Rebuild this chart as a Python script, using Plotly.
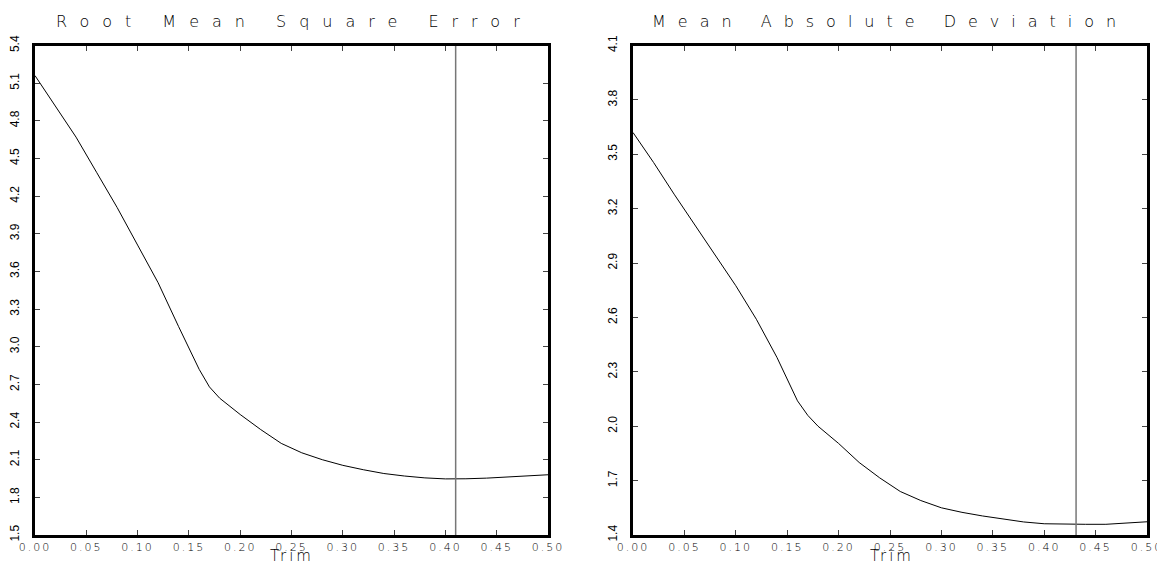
import plotly.graph_objects as go

# ---- data ----
trim_rmse = [0.00, 0.02, 0.04, 0.06, 0.08, 0.10, 0.12, 0.14, 0.16, 0.17, 0.18, 0.20,
             0.22, 0.24, 0.26, 0.28, 0.30, 0.32, 0.34, 0.36, 0.38, 0.40, 0.41, 0.42,
             0.44, 0.46, 0.48, 0.50]
rmse = [5.16, 4.92, 4.67, 4.39, 4.11, 3.81, 3.51, 3.16, 2.82, 2.68, 2.59, 2.46,
        2.34, 2.23, 2.155, 2.10, 2.055, 2.02, 1.99, 1.97, 1.955, 1.947, 1.946, 1.948,
        1.953, 1.96, 1.97, 1.98]

trim_mad = [0.00, 0.02, 0.04, 0.06, 0.08, 0.10, 0.12, 0.14, 0.16, 0.17, 0.18, 0.20,
            0.22, 0.24, 0.26, 0.28, 0.30, 0.32, 0.34, 0.36, 0.38, 0.40, 0.42, 0.44,
            0.46, 0.48, 0.50]
mad = [3.62, 3.455, 3.28, 3.11, 2.94, 2.775, 2.59, 2.38, 2.14, 2.06, 2.00, 1.905,
       1.80, 1.715, 1.64, 1.59, 1.55, 1.525, 1.505, 1.488, 1.472, 1.462, 1.459, 1.459,
       1.459, 1.465, 1.473]

opt_rmse = 0.41
opt_mad = 0.431

rmse_range = [1.5, 5.4]
mad_range = [1.4, 4.1]
rmse_ticks = [1.5, 1.8, 2.1, 2.4, 2.7, 3.0, 3.3, 3.6, 3.9, 4.2, 4.5, 4.8, 5.1, 5.4]
mad_ticks = [1.4, 1.7, 2.0, 2.3, 2.6, 2.9, 3.2, 3.5, 3.8, 4.1]
x_ticks = [0.00, 0.05, 0.10, 0.15, 0.20, 0.25, 0.30, 0.35, 0.40, 0.45, 0.50]

titles = ["Root Mean Square Error", "Mean Absolute Deviation"]
x_title = "Trim"

# ---- figure ----
# The page body has an 8px default margin, so the figure is sized to fit inside the window.
W, H = 1157, 554

fig = go.Figure()
fig.add_trace(go.Scatter(x=trim_rmse, y=rmse, mode="lines",
                         line=dict(color="black", width=1), xaxis="x", yaxis="y",
                         showlegend=False))
fig.add_trace(go.Scatter(x=[opt_rmse, opt_rmse], y=rmse_range, mode="lines",
                         line=dict(color="#777777", width=1.5), xaxis="x", yaxis="y",
                         showlegend=False))
fig.add_trace(go.Scatter(x=trim_mad, y=mad, mode="lines",
                         line=dict(color="black", width=1), xaxis="x2", yaxis="y2",
                         showlegend=False))
fig.add_trace(go.Scatter(x=[opt_mad, opt_mad], y=mad_range, mode="lines",
                         line=dict(color="#777777", width=1.5), xaxis="x2", yaxis="y2",
                         showlegend=False))

xfont = dict(family="DejaVu Sans", size=11, color="black", weight=300)
yfont = dict(family="Liberation Sans Narrow, Liberation Sans", size=12, color="black")

common_x = dict(range=[0, 0.5], tickvals=x_ticks,
                ticktext=['<span style="letter-spacing:2px">%.2f</span>' % v for v in x_ticks],
                ticks="inside", ticklen=5, tickwidth=1, tickcolor="#444",
                showline=True, linecolor="black", linewidth=3, mirror="ticks",
                showgrid=False, zeroline=False, tickfont=xfont, automargin=False,
                ticklabelstandoff=0)
common_y = dict(ticks="inside", ticklen=5, tickwidth=1, tickcolor="#444",
                showline=True, linecolor="black", linewidth=3, mirror="ticks",
                showgrid=False, zeroline=False, tickfont=yfont, tickangle=-90,
                automargin=False, ticklabelstandoff=8)

fig.update_layout(
    width=W, height=H,
    margin=dict(l=0, r=0, t=0, b=0),
    paper_bgcolor="white", plot_bgcolor="white",
    xaxis=dict(domain=[27 / W, 540 / W], anchor="y", **common_x),
    yaxis=dict(domain=[27 / H, 516.5 / H], anchor="x", range=rmse_range,
               tickvals=rmse_ticks, ticktext=["%.1f" % v for v in rmse_ticks], **common_y),
    xaxis2=dict(domain=[625 / W, 1139 / W], anchor="y2", **common_x),
    yaxis2=dict(domain=[27 / H, 516.5 / H], anchor="x2", range=mad_range,
                tickvals=mad_ticks, ticktext=["%.1f" % v for v in mad_ticks], **common_y),
)

for t, cx, sp in zip(titles, [286.5 / W, 882 / W], [13, 12]):
    fig.add_annotation(text='<span style="letter-spacing:%dpx">%s</span>' % (sp, t),
                       xref="paper", yref="paper", x=cx, y=(H - 13) / H, showarrow=False,
                       xanchor="center", yanchor="middle",
                       font=dict(family="DejaVu Sans", size=16, color="black", weight=300))

for cx in [283.5 / W, 883.5 / W]:
    fig.add_annotation(text='<span style="letter-spacing:3px">%s</span>' % x_title,
                       xref="paper", yref="paper", x=cx, y=(H - 548) / H, showarrow=False,
                       xanchor="center", yanchor="middle",
                       font=dict(family="DejaVu Sans", size=15, color="black", weight=300))

fig.write_html("out.html")
